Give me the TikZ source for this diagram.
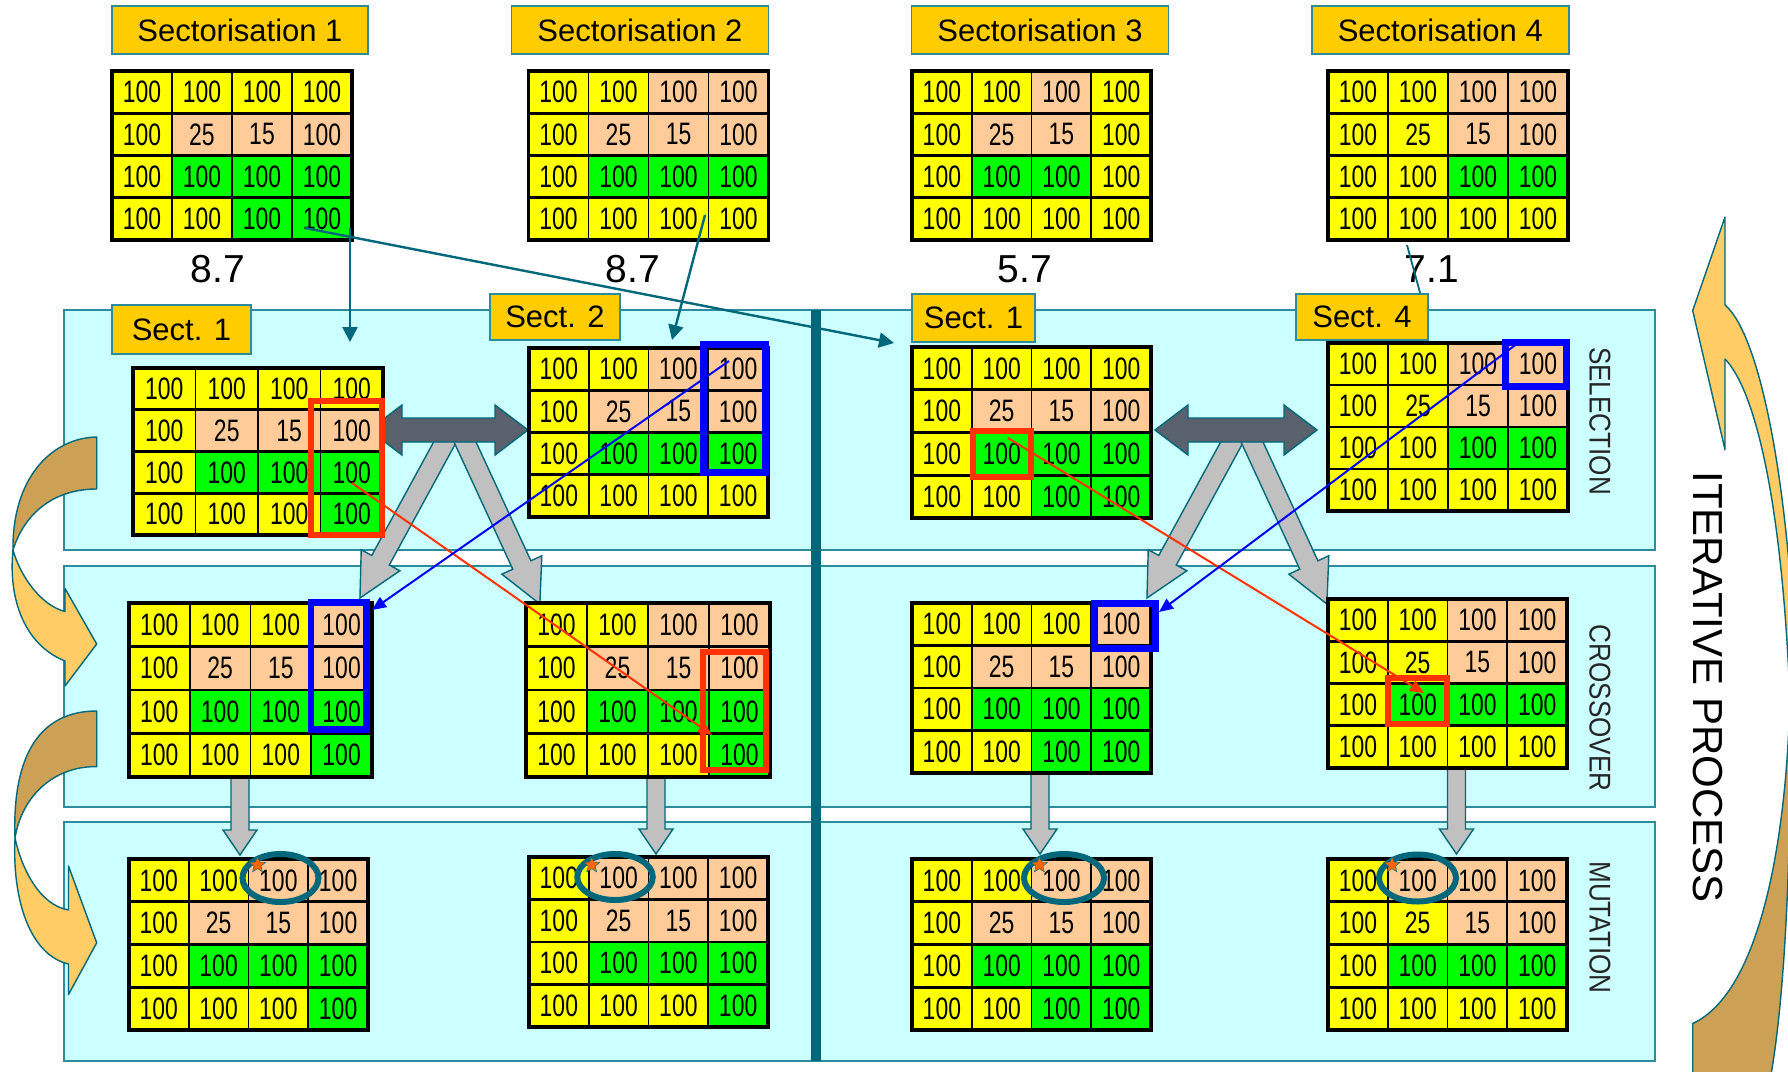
\documentclass[tikz,border=0pt]{standalone}
\usepackage{fontspec}
\setmainfont{Liberation Sans}
\newfontfamily\numfont[FakeStretch=0.74]{Liberation Sans}
\newfontfamily\sidefont[FakeStretch=0.87]{Liberation Sans}
\usetikzlibrary{arrows.meta,shapes.geometric,calc}

\definecolor{cY}{HTML}{FFFF00}
\definecolor{cP}{HTML}{FFCC99}
\definecolor{cG}{HTML}{00FF00}
\definecolor{panel}{HTML}{CCFFFF}
\definecolor{tealE}{HTML}{2C8C9C}
\definecolor{tealD}{HTML}{00687A}
\definecolor{labelY}{HTML}{FFCC00}
\definecolor{hlred}{HTML}{FF3300}
\definecolor{hlblue}{HTML}{0000FF}
\definecolor{dblgray}{HTML}{59626C}
\definecolor{lgray}{HTML}{C0C0C0}
\definecolor{arrLight}{HTML}{FFCC66}
\definecolor{arrDark}{HTML}{CCA155}
\definecolor{starO}{HTML}{FF6600}

\tikzset{
 panelbox/.style={fill=panel, draw=tealE, line width=0.8pt},
 divider/.style={draw=tealD, line width=5pt},
 curveL/.style={fill=arrLight, draw=tealD, line width=0.7pt, line join=round},
 curveD/.style={fill=arrDark, draw=tealD, line width=0.7pt, line join=round},
 lambdaarrow/.style={fill=lgray, draw=tealD, line width=0.7pt},
 dblarrow/.style={fill=dblgray, draw=tealD, line width=0.7pt},
 downarrow/.style={fill=lgray, draw=tealD, line width=0.7pt},
 celltext/.style={font=\numfont\fontsize{15.5}{15.5}\selectfont, inner sep=0pt},
 hline/.style={draw=black, line width=1.4pt},
 vline/.style={draw=black, line width=0.9pt},
 gborder/.style={draw=black, line width=1.6pt},
 labelbox/.style={fill=labelY, draw=tealE, line width=0.9pt, inner sep=0pt, font=\fontsize{15.5}{16}\selectfont},
 scoretext/.style={font=\fontsize{19.5}{20}\selectfont, anchor=base, inner sep=0pt},
 sidelabel/.style={font=\sidefont\fontsize{15}{15}\selectfont, rotate=-90, inner sep=0pt, text=black!85},
 redhl/.style={draw=hlred, line width=3pt},
 bluehl/.style={draw=hlblue, line width=3.4pt},
 mutring/.style={ellipse, draw=tealD, line width=3pt, inner sep=0pt},
 mutstar/.style={star, star points=5, star point ratio=2.3, fill=starO, draw=tealD, line width=0.2pt, minimum size=8.5pt, inner sep=0pt},
 tealarrow/.style={draw=tealD, line width=1.2pt, -{Triangle[length=7.5pt,width=7.5pt]}},
 tealline/.style={draw=tealD, line width=0.9pt},
 redline/.style={draw=hlred, line width=1pt, -{Triangle[length=7pt,width=6pt]}},
 blueline/.style={draw=hlblue, line width=1pt, -{Triangle[length=7pt,width=6pt]}},
}

% #1 name, #2 left x, #3 top y, #4 width, #5 height, #6 sixteen colours
\newcommand{\cellgrid}[6]{%
 \foreach \cc [count=\i from 0] in {#6} {%
   \pgfmathtruncatemacro\rr{\i/4}%
   \pgfmathtruncatemacro\kk{mod(\i,4)}%
   \fill[\cc] ({#2+\kk*#4/4},{#3+\rr*#5/4}) rectangle ++({#4/4},{#5/4});
   \ifnum\rr=1\relax\ifnum\kk=1\relax\def\celltxt{25}\else\ifnum\kk=2\relax\def\celltxt{15}\else\def\celltxt{100}\fi\fi\else\def\celltxt{100}\fi
   \node[celltext] (#1-\rr-\kk) at ({#2+(\kk+0.5)*#4/4},{#3+(\rr+0.5)*#5/4}) {\celltxt};
 }
 \foreach \j in {1,2,3} {
   \draw[hline] (#2,{#3+\j*#5/4}) -- ++(#4,0);
   \draw[vline] ({#2+\j*#4/4},#3) -- ++(0,#5);
 }
 \draw[gborder] (#2,#3) rectangle ++(#4,#5);
}

% #1 x, #2 y, #3 angle, #4 length
\newcommand{\blockarr}[4]{%
 \path[lambdaarrow, shift={(#1,#2)}, rotate=#3] (0,-10) -- ({#4-43},-10) -- ({#4-43},-22) -- (#4,0) -- ({#4-43},22) -- ({#4-43},10) -- (0,10) -- cycle;}

% #1 x, #2 top y, #3 tip y
\newcommand{\downarr}[3]{%
 \path[downarrow] ({#1-9},#2) -- ({#1-9},{#3-25}) -- ({#1-17},{#3-25}) -- (#1,#3) -- ({#1+17},{#3-25}) -- ({#1+9},{#3-25}) -- ({#1+9},#2) -- cycle;}

\begin{document}
\begin{tikzpicture}[x=0.5pt,y=-0.5pt]
\useasboundingbox (0,0) rectangle (1788,1071);
\clip (0,0) rectangle (1788,1071);
\fill[white] (0,0) rectangle (1788,1071);

% panels
\draw[panelbox] (64,310) rectangle (1655,550);
\draw[panelbox] (64,566) rectangle (1655,807);
\draw[panelbox] (64,822) rectangle (1655,1061);
\draw[divider] (816,310) -- (816,1061);

% left curved arrows
\path[curveL] (13,550) .. controls (20,575) and (40,605) .. (65,611.5) -- (65,588.5) -- (96.7,644) -- (65,686) -- (65,661) .. controls (25,645) and (8,600) .. (13,550) -- cycle;
\path[curveD] (96.7,437) .. controls (50,438) and (12,480) .. (13,550) .. controls (25,512) and (55,489) .. (96.7,489) -- cycle;
\path[curveL] (15,838) .. controls (22,870) and (40,905) .. (68.5,910) -- (68.5,866) -- (96.7,942.8) -- (68.5,994.5) -- (68.5,964) .. controls (30,955) and (12,900) .. (15,838) -- cycle;
\path[curveD] (96.7,711) .. controls (40,711) and (12,755) .. (15,838) .. controls (22,795) and (55,766) .. (96.7,766.6) -- cycle;

% right iterative arc
\path[curveL] (1725,217) -- (1692.7,310.6) -- (1725,449.8) -- (1725,359) .. controls (1755,390) and (1782,500) .. (1790,700) -- (1800,700) -- (1800,650) -- (1795,650) .. controls (1785,450) and (1755,330) .. (1725,305) -- cycle;
\path[curveD] (1692.7,1023.5) .. controls (1765,990) and (1788,820) .. (1790,690) .. controls (1792,850) and (1785,1000) .. (1770,1080) -- (1692.7,1080) -- cycle;

% lambda arrows
\blockarr{449.8}{433.2}{-118.6}{187.7}
\blockarr{460.8}{432.9}{-65.2}{188.5}
\blockarr{1236.8}{433.2}{-118.6}{187.7}
\blockarr{1247.8}{432.9}{-65.2}{188.5}

% double arrows
\path[dblarrow] (369,430) -- (402,405) -- (402,418) -- (495,418) -- (495,405) -- (528,430) -- (495,455) -- (495,442) -- (402,442) -- (402,455) -- cycle;
\path[dblarrow] (1155,430) -- (1188,405) -- (1188,418) -- (1284,418) -- (1284,405) -- (1317,430) -- (1284,455) -- (1284,442) -- (1188,442) -- (1188,455) -- cycle;

% down arrows crossover -> mutation
\downarr{240}{770}{855}
\downarr{656}{770}{854}
\downarr{1040}{770}{854}
\downarr{1456.5}{765}{854}

% top grids
\cellgrid{G1}{112}{71}{240}{169}{cY,cY,cY,cY, cY,cP,cP,cP, cY,cG,cG,cG, cY,cY,cG,cG}
\cellgrid{G2}{528.5}{71}{240}{169}{cY,cY,cP,cP, cY,cP,cP,cP, cY,cG,cG,cG, cY,cY,cY,cY}
\cellgrid{G3}{912}{71}{239}{169}{cY,cY,cP,cY, cY,cP,cP,cY, cY,cG,cG,cY, cY,cY,cY,cY}
\cellgrid{G4}{1328}{71}{240}{169}{cY,cY,cP,cP, cY,cY,cP,cP, cY,cY,cG,cG, cY,cY,cY,cY}

% selection grids
\cellgrid{S1}{133}{368}{250}{167}{cY,cY,cY,cY, cY,cP,cP,cP, cY,cG,cG,cG, cY,cY,cY,cG}
\cellgrid{S2}{529}{348}{239}{169}{cY,cY,cP,cP, cY,cP,cP,cP, cY,cG,cG,cG, cY,cY,cY,cY}
\cellgrid{S3}{912}{347}{239}{171}{cY,cY,cY,cY, cY,cP,cP,cP, cY,cG,cG,cG, cY,cY,cG,cG}
\cellgrid{S4}{1328}{343}{240}{168}{cY,cY,cP,cP, cY,cY,cP,cP, cY,cY,cG,cG, cY,cY,cY,cY}

% crossover grids
\cellgrid{C1}{129}{603}{243}{174}{cY,cY,cY,cP, cY,cP,cP,cP, cY,cG,cG,cG, cY,cY,cY,cG}
\cellgrid{C2}{526}{603}{244}{174}{cY,cY,cP,cP, cY,cP,cP,cP, cY,cG,cG,cG, cY,cY,cY,cG}
\cellgrid{C3}{912}{603}{239}{170}{cY,cY,cY,cP, cY,cP,cP,cP, cY,cG,cG,cG, cY,cY,cG,cG}
\cellgrid{C4}{1328}{599}{239}{169}{cY,cY,cP,cP, cY,cY,cP,cP, cY,cG,cG,cG, cY,cY,cY,cY}

% mutation grids
\cellgrid{M1}{129}{859}{239}{171}{cY,cY,cP,cP, cY,cP,cP,cP, cY,cG,cG,cG, cY,cY,cY,cG}
\cellgrid{M2}{529}{857}{239}{170}{cY,cP,cP,cP, cY,cP,cP,cP, cY,cG,cG,cG, cY,cY,cY,cG}
\cellgrid{M3}{912}{859}{239}{171}{cY,cY,cP,cP, cY,cP,cP,cP, cY,cG,cG,cG, cY,cY,cG,cG}
\cellgrid{M4}{1328}{859}{239}{171}{cY,cP,cP,cP, cY,cY,cP,cP, cY,cG,cG,cG, cY,cY,cY,cY}

% highlight rectangles
\draw[redhl] (310.5,400.7) rectangle (382,534.7);
\draw[bluehl] (703.4,344.4) rectangle (765.2,472.6);
\draw[redhl] (973,431) rectangle (1031,477);
\draw[bluehl] (1505.4,342.4) rectangle (1566.6,386.6);
\draw[bluehl] (311,602.4) rectangle (366.6,729.6);
\draw[redhl] (703,652) rectangle (766,770);
\draw[bluehl] (1094.4,603.4) rectangle (1155.6,648.6);
\draw[redhl] (1388,678) rectangle (1447,724);

% mutation rings and stars
\node[mutring, minimum width=38pt, minimum height=24pt] (M1e) at (280.5,878) {};
\node[mutring, minimum width=37.75pt, minimum height=23pt] (M2e) at (615,877) {};
\node[mutring, minimum width=40pt, minimum height=24pt] (M3e) at (1064,878) {};
\node[mutring, minimum width=38.5pt, minimum height=23.5pt] (M4e) at (1417.5,878) {};
\node[mutstar] (M1s) at (257.5,865) {};
\node[mutstar] (M2s) at (591.7,865) {};
\node[mutstar] (M3s) at (1039.4,865) {};
\node[mutstar] (M4s) at (1392,865) {};

% labels
\node[labelbox, minimum width=128pt, minimum height=24pt] (lab1) at (240,30) {Sectorisation 1};
\node[labelbox, minimum width=128.5pt, minimum height=24pt] (lab2) at (640,30) {Sectorisation 2};
\node[labelbox, minimum width=128.5pt, minimum height=24pt] (lab3) at (1040,30) {Sectorisation 3};
\node[labelbox, minimum width=128.5pt, minimum height=24pt] (lab4) at (1440.3,30) {Sectorisation 4};

\node[labelbox, minimum width=69.5pt, minimum height=24.5pt] (sl1) at (181.5,329.5) {Sect. 1};
\node[labelbox, minimum width=65pt, minimum height=23pt] (sl2) at (555,317) {Sect. 2};
\node[labelbox, minimum width=61.5pt, minimum height=24pt] (sl3) at (973.5,318) {Sect. 1};

% scores
\node[scoretext] (sc1) at (218,282) {8.7};
\node[scoretext] (sc2) at (633,282) {8.7};
\node[scoretext] (sc3) at (1025,282) {5.7};
\node[scoretext] (sc4) at (1432,282) {7.1};

% thin line under Sect. 4 label
\coordinate (t4a) at (1407,245);
\coordinate (t4b) at (1422,300);
\draw[tealline] (t4a) -- (t4b);
\node[labelbox, minimum width=66pt, minimum height=23pt] (sl4) at (1362,317) {Sect. 4};

% side labels
\node[sidelabel] (selT) at (1600,421) {SELECTION};
\node[sidelabel] (croT) at (1600,708) {CROSSOVER};
\node[sidelabel] (mutT) at (1600,927.5) {MUTATION};
\node[rotate=-90, inner sep=0pt, font=\fontsize{21}{21}\selectfont] (iterT) at (1708,687) {ITERATIVE PROCESS};

% teal arrows from sectorisations to selection
\coordinate (t1a) at (350,228);
\coordinate (t1b) at (350,342);
\coordinate (t2a) at (305,228);
\coordinate (t2b) at (894,343);
\coordinate (t3a) at (705,215);
\coordinate (t3b) at (672,340);
\draw[tealarrow] (t1a) -- (t1b);
\draw[tealarrow] (t2a) -- (t2b);
\draw[tealarrow] (t3a) -- (t3b);

% crossover lines
\coordinate (r1a) at (352,483);
\coordinate (r1b) at (712,735);
\coordinate (b1a) at (729,361);
\coordinate (b1b) at (372,610);
\coordinate (r2a) at (1008,438);
\coordinate (r2b) at (1424,693);
\coordinate (b2a) at (1518,343);
\coordinate (b2b) at (1159,612);
\draw[redline] (r1a) -- (r1b);
\draw[blueline] (b1a) -- (b1b);
\draw[redline] (r2a) -- (r2b);
\draw[blueline] (b2a) -- (b2b);
\end{tikzpicture}
\end{document}
